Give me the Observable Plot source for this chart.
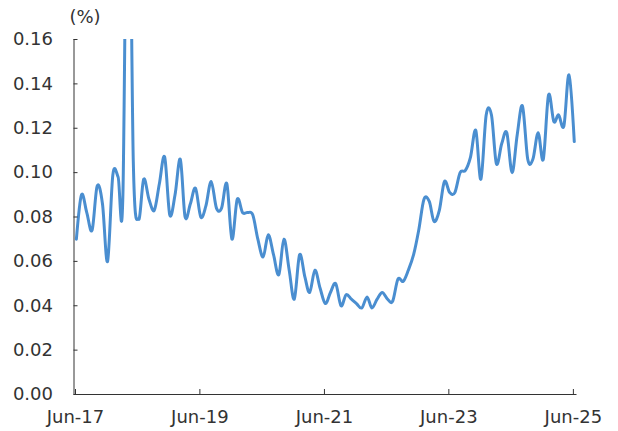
<!DOCTYPE html>
<html>
<head>
<meta charset="utf-8">
<script src="https://cdn.jsdelivr.net/npm/d3@7"></script>
<script src="https://cdn.jsdelivr.net/npm/@observablehq/plot@0.6"></script>
<style>
  html, body { margin: 0; padding: 0; background: #fff; }
</style>
</head>
<body>
<div id="chart"></div>
<script>
// Monthly rate (%), June 2017 through June 2025
const startYear = 2017;
const startMonth = 5; // June (0-based)
const rates = [
  0.070, 0.090, 0.082, 0.074, 0.094, 0.086, 0.060, 0.099, 0.098, 0.090,
  0.280, 0.105, 0.079, 0.097, 0.088, 0.083, 0.095, 0.107, 0.081, 0.090,
  0.106, 0.080, 0.086, 0.093, 0.080, 0.085, 0.096, 0.084, 0.084, 0.095,
  0.070, 0.088, 0.082, 0.082, 0.081, 0.070, 0.062, 0.072, 0.063, 0.054,
  0.070, 0.056, 0.043, 0.063, 0.053, 0.046, 0.056, 0.048, 0.041, 0.046,
  0.050, 0.040, 0.045, 0.043, 0.041, 0.039, 0.044, 0.039, 0.043, 0.046,
  0.043, 0.042, 0.052, 0.051, 0.056, 0.063, 0.074, 0.088, 0.087, 0.078,
  0.083, 0.096, 0.091, 0.091, 0.100, 0.101, 0.107, 0.119, 0.097, 0.126,
  0.126, 0.104, 0.113, 0.118, 0.100, 0.117, 0.130, 0.106, 0.106, 0.118,
  0.106, 0.135, 0.123, 0.126, 0.121, 0.144, 0.114
];

// Axis ticks and labels
const yTicks = [0, 0.02, 0.04, 0.06, 0.08, 0.10, 0.12, 0.14, 0.16];
const xTickDates = [2017, 2019, 2021, 2023, 2025].map(y => new Date(Date.UTC(y, 5, 1)));
const xTickLabels = ["Jun-17", "Jun-19", "Jun-21", "Jun-23", "Jun-25"];
const xDomain = [new Date(Date.UTC(2017, 5, 1)), new Date(Date.UTC(2025, 6, 1))];
const unitLabel = "(%)";

// Each monthly observation sits mid-month
const series = rates.map((v, i) => ({
  date: new Date(Date.UTC(startYear, startMonth + i, 15)),
  value: v
}));

const axisColor = "#333";

const chart = Plot.plot({
  width: 618,
  height: 431,
  marginLeft: 73.5,
  marginRight: 41.5,
  marginTop: 39,
  marginBottom: 37,
  style: {fontFamily: "DejaVu Sans", fontSize: "18px", color: axisColor, background: "#fff"},
  x: {type: "utc", domain: xDomain},
  y: {domain: [0, 0.16]},
  marks: [
    Plot.line(series, {
      x: "date", y: "value",
      stroke: "#4a8ed0", strokeWidth: 3,
      curve: "cardinal", tension: 0,
      clip: true
    }),
    Plot.axisY({
      ticks: yTicks,
      tickFormat: d3.format(".2f"),
      tickSize: -4,
      tickPadding: 25,
      stroke: axisColor,
      label: null
    }),
    Plot.axisX({
      ticks: xTickDates,
      tickFormat: d => xTickLabels[xTickDates.findIndex(t => +t === +d)],
      tickSize: -5,
      tickPadding: 20.6,
      dx: 1.5,
      stroke: axisColor,
      label: null
    }),
    Plot.ruleX([xDomain[0]], {stroke: axisColor}),
    Plot.ruleY([0], {stroke: axisColor}),
    Plot.text([unitLabel], {
      frameAnchor: "top-left",
      dx: 11, dy: -22.3,
      textAnchor: "middle",
      lineAnchor: "middle",
      fill: axisColor
    })
  ]
});

document.getElementById("chart").append(chart);
</script>
</body>
</html>
